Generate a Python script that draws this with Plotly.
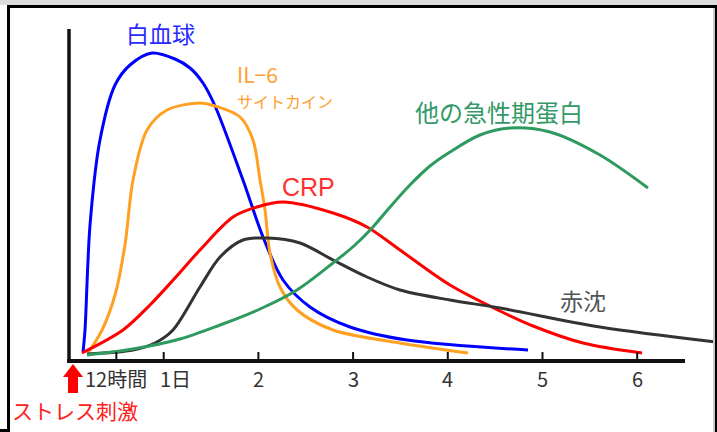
import plotly.graph_objects as go

# ---- data (x: days after stress, y: relative level) ----
wbc_days = [0.148, 0.169, 0.222, 0.327, 0.486, 0.644, 0.876, 1.119, 1.278, 1.415, 1.542, 1.837, 2.049, 2.260, 2.545, 2.967, 3.569, 4.847]
wbc_vals = [9, 31, 136, 221, 276, 296, 308, 302, 293, 278, 255, 181, 124, 81, 54, 34, 21, 11]

il6_days = [0.201, 0.349, 0.486, 0.591, 0.676, 0.824, 1.035, 1.383, 1.542, 1.806, 1.943, 2.017, 2.070, 2.122, 2.228, 2.408, 2.788, 3.495, 4.213]
il6_vals = [8, 31, 66, 116, 181, 231, 251, 258, 255, 244, 221, 181, 151, 108, 74, 51, 31, 18, 8]

crp_days = [0.137, 0.570, 0.855, 1.119, 1.383, 1.732, 1.985, 2.260, 2.788, 3.147, 3.495, 4.023, 4.551, 4.900, 5.428, 6.051]
crp_vals = [8, 31, 56, 83, 111, 144, 154, 159, 148, 134, 111, 76, 50, 35, 18, 8]

esr_days = [0.190, 0.676, 0.908, 1.098, 1.383, 1.595, 1.837, 2.091, 2.439, 2.788, 3.147, 3.495, 4.023, 4.551, 5.607, 6.832]
esr_vals = [7, 11, 18, 31, 74, 104, 121, 123, 118, 101, 84, 71, 61, 53, 34, 19]

app_days = [0.190, 0.676, 1.172, 1.595, 2.017, 2.408, 2.788, 3.020, 3.210, 3.390, 3.600, 3.812, 4.023, 4.340, 4.657, 5.079, 5.607, 6.114]
app_vals = [6, 12, 22, 36, 52, 71, 98, 116, 134, 154, 176, 195, 209, 226, 233, 229, 206, 173]

tick_days = [0.5, 1, 2, 3, 4, 5, 6]
tick_labels = ["12時間", "1日", "2", "3", "4", "5", "6"]

series = [
    ("白血球", wbc_days, wbc_vals, "#0000ff"),
    ("IL-6 サイトカイン", il6_days, il6_vals, "#ffa020"),
    ("CRP", crp_days, crp_vals, "#ff0000"),
    ("赤沈", esr_days, esr_vals, "#333333"),
    ("他の急性期蛋白", app_days, app_vals, "#2e9a5e"),
]

# ---- pixel helpers for layout decorations ----
W, H = 717, 432
PX_PER_DAY = 94.7
X0 = 69
Y0 = 361
def dx(px):
    return (px - X0) / PX_PER_DAY
def vy(py):
    return Y0 - py

JP = "Noto Sans CJK JP, Noto Sans, sans-serif"

fig = go.Figure()
for name, xs, ys, col in series:
    fig.add_trace(go.Scatter(x=xs, y=ys, mode="lines", name=name,
                             line=dict(color=col, width=3, shape="spline", smoothing=0.9),
                             hoverinfo="skip"))

shapes = []
def prect(x0, y0, x1, y1, color):
    shapes.append(dict(type="rect", xref="paper", yref="paper",
                       x0=x0 / W, x1=x1 / W, y0=1 - y1 / H, y1=1 - y0 / H,
                       fillcolor=color, line=dict(width=0), layer="above"))

# frame
prect(0, 0, 717, 5, "#dcdcdc")
prect(7, 5, 717, 8, "#000000")
prect(7, 5, 10, 429, "#000000")
prect(0, 429, 10, 432, "#000000")
prect(713, 8, 715, 432, "#c8c8c8")
prect(715, 5, 717, 432, "#000000")

# axes
shapes.append(dict(type="line", x0=dx(67), x1=dx(685), y0=0, y1=0,
                   line=dict(color="#111111", width=4), layer="above"))
shapes.append(dict(type="line", x0=0, x1=0, y0=0, y1=vy(29),
                   line=dict(color="#111111", width=3.5), layer="above"))
for d in tick_days:
    shapes.append(dict(type="line", x0=d, x1=d, y0=0, y1=9,
                       line=dict(color="#111111", width=2), layer="above"))

# red arrow (stress stimulus)
ax = 73
path = (f"M {dx(ax-10)},{vy(377)} L {dx(ax)},{vy(364)} L {dx(ax+10)},{vy(377)} "
        f"L {dx(ax+5)},{vy(377)} L {dx(ax+5)},{vy(393)} L {dx(ax-5)},{vy(393)} "
        f"L {dx(ax-5)},{vy(377)} Z")
shapes.append(dict(type="path", path=path, fillcolor="#ff0000",
                   line=dict(width=0), layer="above"))

annotations = []
def ann(text, px, py, color, size, xanchor="center", font=JP):
    annotations.append(dict(text=text, x=dx(px), y=vy(py), xref="x", yref="y",
                            showarrow=False, xanchor=xanchor, yanchor="middle",
                            font=dict(family=font, size=size, color=color)))

# tick labels
for d, lab in zip(tick_days, tick_labels):
    if lab == "1日":
        annotations.append(dict(text=lab, x=d, y=vy(378), xref="x", yref="y",
                                showarrow=False, xanchor="left", yanchor="middle", xshift=-6,
                                font=dict(family=JP, size=20, color="#333333")))
    else:
        annotations.append(dict(text=lab, x=d, y=vy(378), xref="x", yref="y",
                                showarrow=False, xanchor="center", yanchor="middle",
                                font=dict(family=JP, size=20, color="#333333")))

ann("ストレス刺激", 10, 410, "#ff2020", 21, xanchor="left")
ann("白血球", 124, 33, "#2a2aff", 23, xanchor="left")
ann("IL−6", 235, 74, "#ffa030", 21, xanchor="left")
ann("サイトカイン", 235, 101, "#ffa030", 16, xanchor="left")
ann("CRP", 280, 187, "#ff3030", 25, xanchor="left", font="Liberation Sans, Arial, sans-serif")
ann("他の急性期蛋白", 413, 111, "#339966", 24, xanchor="left")
ann("赤沈", 558, 300, "#555555", 23, xanchor="left")

fig.update_layout(
    width=W, height=H,
    margin=dict(l=0, r=0, t=0, b=0),
    paper_bgcolor="white", plot_bgcolor="white",
    showlegend=False,
    xaxis=dict(range=[dx(0), dx(W)], visible=False, fixedrange=True),
    yaxis=dict(range=[vy(H), vy(0)], visible=False, fixedrange=True),
    shapes=shapes, annotations=annotations,
)

fig.write_html("out.html", config={"displayModeBar": False, "staticPlot": True},
               post_script="document.body.style.margin='0px';")
